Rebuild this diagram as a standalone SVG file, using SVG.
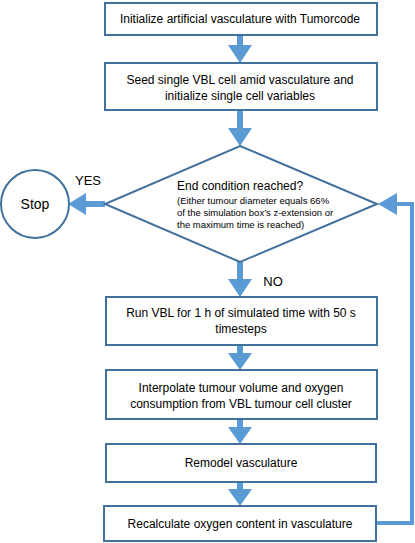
<svg xmlns="http://www.w3.org/2000/svg" width="415" height="543" viewBox="0 0 415 543">
<style>
.box{fill:#fff;stroke:#41719C;stroke-width:2}
.arr{fill:#5B9BD5;stroke:none}
.fb{fill:none;stroke:#5B9BD5;stroke-width:4}
.t{font-family:"Liberation Sans",Arial,sans-serif;font-size:12px;fill:#000;text-anchor:middle}
.l{text-anchor:start}
.s{font-size:9.5px}
.b{font-size:13px}
</style>
<rect width="415" height="543" fill="#fff"/>
<g id="connectors">
<polygon class="arr" points="237,35 243,35 243,45 252,45 240,63 228,45 237,45"/>
<polygon class="arr" points="237,111 243,111 243,128 252,128 240,146 228,128 237,128"/>
<polygon class="arr" points="237,262 243,262 243,279 252,279 240,297 228,279 237,279"/>
<polygon class="arr" points="237,345 243,345 243,353 252,353 240,370 228,353 237,353"/>
<polygon class="arr" points="237,419 243,419 243,427 252,427 240,444 228,427 237,427"/>
<polygon class="arr" points="237,482 243,482 243,489 252,489 240,506 228,489 237,489"/>
<polygon class="arr" points="105,201 105,207 86,207 86,215 68,204 86,193 86,201"/>
<polyline class="fb" points="377,523 412,523 412,204 396,204"/>
<polygon class="arr" points="397,193 397,215 378,204"/>
<text class="t b" x="88" y="185">YES</text>
<text class="t b" x="273" y="286">NO</text>
</g>
<g id="n1">
<rect class="box" x="105" y="3" width="272" height="32"/>
<text class="t" x="240" y="23">Initialize artificial vasculature with Tumorcode</text>
</g>
<g id="n2">
<rect class="box" x="105" y="63" width="272" height="47"/>
<text class="t" x="240" y="84">Seed single VBL cell amid vasculature and</text>
<text class="t" x="240" y="100">initialize single cell variables</text>
</g>
<g id="decision">
<polygon class="box" points="240,146 377,204 240,262 105,204"/>
<text class="t l" x="177" y="190">End condition reached?</text>
<text class="t l s" x="177" y="204">(Either tumour diameter equals 66%</text>
<text class="t l s" x="177" y="216">of the simulation box’s z-extension or</text>
<text class="t l s" x="177" y="228">the maximum time is reached)</text>
</g>
<g id="stop">
<circle class="box" cx="35" cy="204" r="34"/>
<text class="t" x="35" y="209" style="font-size:14px">Stop</text>
</g>
<g id="n3">
<rect class="box" x="106" y="297" width="271" height="48"/>
<text class="t" x="241" y="317">Run VBL for 1 h of simulated time with 50 s</text>
<text class="t" x="241" y="333">timesteps</text>
</g>
<g id="n4">
<rect class="box" x="106" y="370" width="271" height="49"/>
<text class="t" x="241" y="392">Interpolate tumour volume and oxygen</text>
<text class="t" x="241" y="408">consumption from VBL tumour cell cluster</text>
</g>
<g id="n5">
<rect class="box" x="106" y="444" width="270" height="38"/>
<text class="t" x="241" y="467">Remodel vasculature</text>
</g>
<g id="n6">
<rect class="box" x="104" y="506" width="272" height="35"/>
<text class="t" x="240" y="528">Recalculate oxygen content in vasculature</text>
</g>
</svg>
